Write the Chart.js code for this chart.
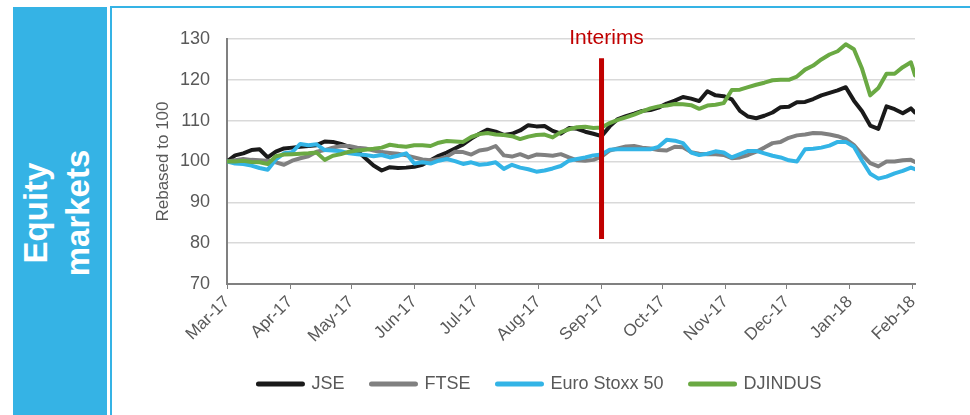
<!DOCTYPE html>
<html>
<head>
<meta charset="utf-8">
<script src="https://cdn.jsdelivr.net/npm/chart.js@4.4.1/dist/chart.umd.min.js"></script>
<style>
  html, body { margin: 0; padding: 0; background: #fff; overflow: hidden; }
  body { width: 970px; height: 415px; position: relative; font-family: 'Liberation Sans', Arial, sans-serif; }
  #side {
    position: absolute; left: 13px; top: 7px; width: 94px; height: 420px;
    background: #35b3e5;
  }
  #sideText {
    position: absolute; left: -43px; top: 171px; width: 200px; height: 84px;
    transform: rotate(-90deg);
    color: #fff; font-weight: bold; font-size: 33px; line-height: 42px; text-align: center;
  }
  #frame {
    position: absolute; left: 110px; top: 6px; width: 880px; height: 430px;
    border: 2px solid #35b3e5; box-sizing: border-box;
  }
  #chart { position: absolute; left: 111px; top: 7px; }
</style>
</head>
<body>
<div id="side"></div>
<div id="sideText">Equity<br>markets</div>
<div id="frame"></div>
<canvas id="chart" width="859" height="408"></canvas>
<script>
// Sample days since 1 Mar 2017 (every 4 days, last point 3 Feb 2018)
const days = [];
for (let d = 0; d <= 336; d += 4) days.push(d);
days.push(338);

// Month ticks (day offsets) and their labels
const monthDays = [0, 31, 61, 92, 122, 153, 184, 214, 245, 275, 306, 337];
const monthLabels = ['Mar-17', 'Apr-17', 'May-17', 'Jun-17', 'Jul-17', 'Aug-17',
                     'Sep-17', 'Oct-17', 'Nov-17', 'Dec-17', 'Jan-18', 'Feb-18'];
const yTicks = [70, 80, 90, 100, 110, 120, 130];

// Interims marker
const interimDay = 184;
const interimRange = [125.3, 81];

const jse = [
  100.0, 101.5, 102.0, 102.8, 103.0, 101.0, 102.4, 103.2, 103.4, 103.6,
  103.8, 104.0, 104.9, 104.8, 104.3, 103.6, 102.6, 100.8, 99.0, 97.8,
  98.6, 98.4, 98.5, 98.7, 99.2, 100.3, 101.4, 102.2, 103.2, 104.2,
  105.6, 106.8, 107.8, 107.3, 106.5, 106.8, 107.6, 108.9, 108.6, 108.7,
  107.5, 106.8, 108.2, 108.0, 107.3, 106.8, 106.2, 108.6, 110.4, 111.1,
  111.7, 112.4, 112.6, 113.2, 114.2, 114.9, 115.8, 115.4, 114.8, 117.2,
  116.2, 116.0, 115.2, 112.4, 111.0, 110.6, 111.2, 112.0, 113.3, 113.4,
  114.5, 114.6, 115.3, 116.2, 116.8, 117.4, 118.2, 114.9, 112.3, 108.8,
  108.0, 113.5, 112.8, 111.8, 113.0, 112.0
];
const ftse = [
  100.0, 100.3, 100.6, 100.4, 100.3, 100.2, 99.8, 99.2, 100.2, 100.8,
  101.3, 102.4, 102.8, 103.4, 103.8, 103.8, 103.4, 103.2, 102.7, 102.3,
  102.1, 101.9, 101.5, 101.0, 100.5, 100.3, 100.6, 101.2, 102.4, 102.3,
  101.7, 102.7, 103.0, 103.8, 101.5, 101.2, 101.8, 101.0, 101.7, 101.6,
  101.4, 101.8, 101.0, 100.3, 100.2, 100.4, 101.2, 102.7, 103.2, 103.7,
  103.8, 103.4, 103.2, 102.8, 102.7, 103.6, 103.5, 102.3, 101.9, 101.8,
  101.8, 101.6, 100.8, 101.0, 101.6, 102.4, 103.4, 104.5, 104.8, 105.8,
  106.4, 106.6, 107.0, 106.9, 106.6, 106.2, 105.5, 104.0, 101.7, 99.6,
  98.8, 100.0, 100.0, 100.3, 100.4, 99.9
];
const euroStoxx = [
  100.0, 99.5, 99.4, 99.0, 98.4, 98.0, 100.5, 102.0, 102.3, 104.3,
  104.0, 104.2, 102.8, 102.7, 102.5, 102.0, 101.8, 101.6, 101.3, 101.6,
  101.0, 101.4, 102.0, 99.5, 99.8, 99.5, 100.2, 100.6, 100.1, 99.4,
  99.8, 99.2, 99.4, 99.8, 98.2, 99.2, 98.5, 98.1, 97.5, 97.8,
  98.3, 98.9, 100.2, 100.6, 101.0, 101.5, 101.7, 102.9, 103.0, 103.0,
  103.0, 103.0, 103.0, 103.6, 105.3, 105.1, 104.5, 102.2, 101.6, 101.9,
  102.5, 102.2, 101.0, 101.8, 102.6, 102.6, 102.0, 101.4, 101.0, 100.3,
  100.0, 103.0, 103.1, 103.4, 103.9, 104.8, 104.8, 103.6, 100.2, 97.0,
  95.8, 96.3, 97.1, 97.7, 98.5, 98.1
];
const djindus = [
  100.0, 100.0, 100.2, 99.9, 99.8, 99.4, 101.3, 101.7, 101.8, 101.9,
  102.0, 102.2, 100.4, 101.4, 101.8, 102.4, 102.7, 102.9, 103.1, 103.4,
  104.1, 103.8, 103.6, 104.0, 104.0, 103.8, 104.6, 105.0, 104.9, 104.8,
  106.0, 106.7, 107.0, 106.6, 106.5, 106.2, 105.5, 106.1, 106.5, 106.6,
  105.9, 107.2, 107.9, 108.4, 108.5, 108.2, 108.3, 109.4, 110.2, 110.8,
  111.5, 112.3, 113.0, 113.5, 113.7, 114.1, 114.0, 113.8, 112.9, 113.7,
  113.9, 114.3, 117.5, 117.6, 118.2, 118.8, 119.3, 119.9, 120.0, 120.0,
  120.8, 122.5, 123.5, 125.0, 126.2, 127.0, 128.7, 127.5, 122.7, 116.2,
  118.0, 121.5, 121.5, 123.1, 124.3, 121.1
];

const seriesNames = ['JSE', 'FTSE', 'Euro Stoxx 50', 'DJINDUS'];
const seriesColors = ['#1a1a1a', '#808080', '#33b4e6', '#6aa943'];
const seriesValues = [jse, ftse, euroStoxx, djindus];

const FONT = "'Liberation Sans', Arial, sans-serif";
const textGrey = '#595959';

function toPoints(values) {
  return values.map((v, i) => ({ x: days[i], y: v }));
}

const datasets = seriesValues.map((vals, i) => ({
  label: seriesNames[i],
  data: toPoints(vals),
  borderColor: seriesColors[i],
  backgroundColor: seriesColors[i],
  borderWidth: 4,
  borderCapStyle: 'round',
  borderJoinStyle: 'round',
  pointRadius: 0,
  tension: 0,
  pointStyle: 'line',
  order: 4 - i
}));

datasets.push({
  label: 'Interims',
  data: interimRange.map(v => ({ x: interimDay, y: v })),
  borderColor: '#c00000',
  borderWidth: 5,
  borderCapStyle: 'butt',
  pointRadius: 0,
  order: 0
});

// Label above the interims marker
const interimsLabel = {
  id: 'interimsLabel',
  afterDraw(chart) {
    const ctx = chart.ctx;
    const x = chart.scales.x.getPixelForValue(interimDay);
    ctx.save();
    ctx.fillStyle = '#c00000';
    ctx.font = '21px ' + FONT;
    ctx.textAlign = 'center';
    ctx.textBaseline = 'middle';
    ctx.fillText('Interims', x + 5, chart.chartArea.top - 1);
    ctx.restore();
  }
};

new Chart(document.getElementById('chart'), {
  type: 'line',
  data: { datasets: datasets },
  plugins: [interimsLabel],
  options: {
    responsive: false,
    animation: false,
    layout: { padding: { left: 54, right: 55, top: 32, bottom: 12 } },
    plugins: {
      tooltip: { enabled: false },
      legend: {
        position: 'bottom',
        labels: {
          usePointStyle: true,
          pointStyleWidth: 44,
          padding: 27,
          color: textGrey,
          font: { family: FONT, size: 18 },
          filter: item => item.text !== 'Interims',
          sort: (a, b) => a.datasetIndex - b.datasetIndex,
          generateLabels: chart => Chart.defaults.plugins.legend.labels.generateLabels(chart)
            .map(item => Object.assign(item, { lineWidth: 5, lineCap: 'round' }))
        }
      }
    },
    scales: {
      x: {
        type: 'linear',
        min: 0,
        max: 338,
        afterBuildTicks: scale => { scale.ticks = monthDays.map(v => ({ value: v })); },
        afterFit: scale => { scale.height = 64; },
        ticks: {
          autoSkip: false,
          maxRotation: 45,
          minRotation: 45,
          padding: 3,
          color: textGrey,
          font: { family: FONT, size: 17 },
          callback: (value, index) => monthLabels[index]
        },
        grid: { drawOnChartArea: false, tickLength: 5, color: '#808080', lineWidth: 1 },
        border: { color: '#808080', width: 2 }
      },
      y: {
        min: 70,
        max: 130,
        afterBuildTicks: scale => { scale.ticks = yTicks.map(v => ({ value: v })); },
        afterFit: scale => { scale.width = 62; },
        ticks: {
          padding: 17,
          color: textGrey,
          font: { family: FONT, size: 18 }
        },
        grid: { drawTicks: false, color: '#d9d9d9', lineWidth: 1.5 },
        border: { color: '#808080', width: 2 },
        title: {
          display: true,
          text: 'Rebased to 100',
          color: textGrey,
          font: { family: FONT, size: 17 },
          padding: { top: -12, bottom: 0 }
        }
      }
    }
  }
});
</script>
</body>
</html>
